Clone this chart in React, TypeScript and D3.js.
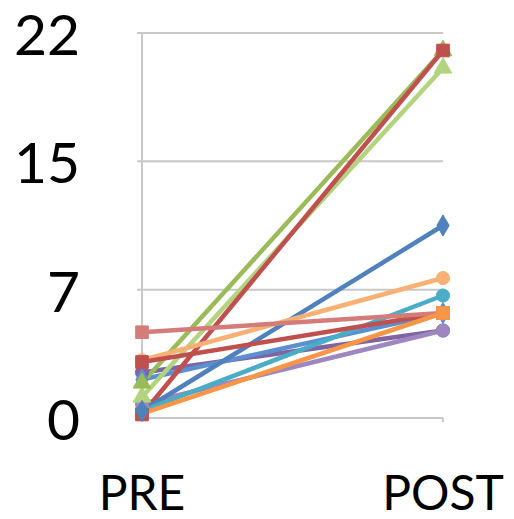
import React from "react";
import * as d3 from "d3";

const categories = ["PRE", "POST"];
const seriesNames = ["S1", "S2", "S3", "S4", "S5", "S6", "S7", "S8", "S9", "S10", "S11", "S12"];
const preValues = [2.6, 0.8, 2.2, 1.2, 2.0, 0.2, 0.4, 0.4, 3.3, 3.2, 4.9, 0.25];
const postValues = [5, 5, 6, 20, 21, 21, 11, 7, 8, 6, 6, 6];
const seriesColors = ["#8064A2", "#9E86C0", "#5B8FD0", "#B3D37E", "#9BBB59", "#C0504D", "#4F81BD", "#4BACC6", "#F9B074", "#C0504D", "#D47C7A", "#F79646"];
const seriesMarkers = ["circle", "circle", "diamond", "triangle", "triangle", "square", "diamond", "circle", "circle", "square", "square", "square"];
const preMarkerOrder = ["S12", "S1", "S2", "S3", "S4", "S5", "S8", "S6", "S7", "S9", "S10", "S11"];
const tickValues = [0, 22 / 3, 44 / 3, 22];
const tickLabels = ["0", "7", "15", "22"];

const W = 514;
const H = 519;

export default function App() {
  const x = d3.scalePoint<string>().domain(categories).range([142, 443]);
  const y = d3.scaleLinear().domain([0, 22]).range([418, 33]);
  const symType: Record<string, d3.SymbolType> = {
    diamond: d3.symbolDiamond,
    circle: d3.symbolCircle,
    square: d3.symbolSquare,
    triangle: d3.symbolTriangle,
  };
  const symSize: Record<string, number> = { diamond: 130, circle: 135, square: 160, triangle: 135 };
  const line = d3.line<[number, number]>();
  const font = "Lato, 'Open Sans', sans-serif";
  const marker = (i: number, cat: string, v: number, key: string) => {
    const sym = d3.symbol().type(symType[seriesMarkers[i]]).size(symSize[seriesMarkers[i]])();
    return (
      <path key={key} d={sym || ""} transform={`translate(${x(cat)},${y(v)})`} fill={seriesColors[i]} stroke={seriesColors[i]} strokeWidth={1} />
    );
  };

  return (
    <svg width={W} height={H} style={{ position: "absolute", left: 0, top: 0, background: "#fff" }}>
      {tickValues.map((t, i) => (
        <g key={"g" + i}>
          <line x1={137} x2={x("POST")!} y1={y(t)} y2={y(t)} stroke="#C8C8C8" strokeWidth={2} />
          <text x={80} y={y(t)} textAnchor="end" dominantBaseline="central" fontFamily={font} fontSize={57} fill="#000">
            {tickLabels[i]}
          </text>
        </g>
      ))}
      <line x1={x("PRE")!} x2={x("PRE")!} y1={y(22)} y2={y(0) + 2} stroke="#C8C8C8" strokeWidth={2} />
      <line x1={x("POST")!} x2={x("POST")!} y1={y(0)} y2={y(0) + 4} stroke="#C8C8C8" strokeWidth={2} />
      {categories.map((c) => (
        <text key={c} x={x(c)!} y={510} textAnchor="middle" fontFamily={font} fontSize={48} fill="#000">
          {c}
        </text>
      ))}
      {seriesNames.map((s, i) => {
        const pts: [number, number][] = [
          [x("PRE")!, y(preValues[i])],
          [x("POST")!, y(postValues[i])],
        ];
        return <path key={"l" + s} d={line(pts) || ""} stroke={seriesColors[i]} strokeWidth={4.5} fill="none" strokeLinecap="round" />;
      })}
      {preMarkerOrder.map((s) => {
        const i = seriesNames.indexOf(s);
        return marker(i, "PRE", preValues[i], "p" + s);
      })}
      {seriesNames.map((s, i) => marker(i, "POST", postValues[i], "q" + s))}
    </svg>
  );
}
